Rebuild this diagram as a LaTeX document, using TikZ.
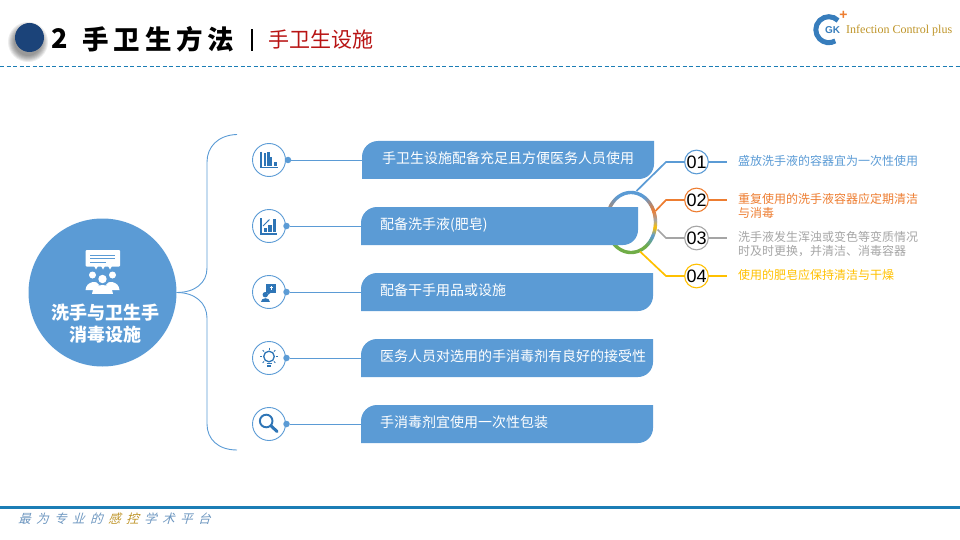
\documentclass[tikz,border=0pt]{standalone}
\usepackage{fontspec}
\setmainfont{Noto Sans CJK SC}
\newfontfamily\numfont{Liberation Sans}
\newfontfamily\logofont{Liberation Serif}
\newfontfamily\headfont[LetterSpace=18]{Noto Sans CJK SC}
\newfontfamily\sloganfont[FakeSlant=0.3]{Noto Sans CJK SC}
\usetikzlibrary{arrows.meta,positioning}
\definecolor{cblue}{HTML}{5B9BD5}
\definecolor{corange}{HTML}{ED7D31}
\definecolor{cgray}{HTML}{A5A5A5}
\definecolor{cyellow}{HTML}{FFC000}
\definecolor{cgreen}{HTML}{70AD47}
\definecolor{cbrown}{HTML}{A58A78}
\definecolor{iconb}{HTML}{2E75B6}
\definecolor{navy}{HTML}{1B4379}
\definecolor{titlered}{HTML}{B81414}
\definecolor{rulec}{HTML}{1B7DB5}
\definecolor{goldc}{HTML}{BE9428}
\definecolor{sloganb}{HTML}{6E97C0}
\newcommand{\fsz}[1]{\fontsize{#1}{#1}\selectfont}
\newcommand{\sgap}{\hspace{5.5pt}}
\tikzset{
  leafbar/.style={inner sep=0pt, minimum height=38pt, minimum width=#1, outer sep=0pt,
    path picture={\fill[cblue] (path picture bounding box.south west) [rounded corners=16pt]
      -- (path picture bounding box.north west) [sharp corners]
      -- (path picture bounding box.north east) [rounded corners=15pt]
      -- (path picture bounding box.south east) [sharp corners] -- cycle;}},
  bartxt/.style={anchor=west, inner sep=0pt, text=white, font=\fsz{14}},
  iconring/.style={circle, draw=cblue, fill=white, line width=0.9pt, minimum size=33pt, inner sep=0pt},
  dotpt/.style={circle, fill=cblue, minimum size=6.5pt, inner sep=0pt},
  linkln/.style={draw=cblue, line width=0.9pt},
  numring/.style={circle, draw=#1, fill=white, line width=1.1pt, minimum size=21pt, inner sep=0pt,
    font=\numfont\fsz{18}, text=black},
  lead/.style={draw=#1, line width=1.7pt},
  notetxt/.style={anchor=west, inner sep=0pt, align=left, text=#1, font=\fontsize{12}{14.5}\selectfont},
  ringseg/.style={line width=3.4pt, line cap=round},
}
\begin{document}
\begin{tikzpicture}[x=1pt,y=-1pt]
  \useasboundingbox (0,0) rectangle (960,540);
  % header
  \foreach \r in {20,19,...,14} \fill[black,opacity=0.07] (28,42) circle[radius=\r pt];
  \node[circle, fill=navy, minimum size=29pt, inner sep=0pt] (headdot) at (29.5,37.5) {};
  \node[anchor=west, inner sep=0pt, font=\bfseries\fsz{27}] (headnum) at (51,39) {2};
  \node[anchor=west, inner sep=0pt, font=\headfont\bfseries\fsz{26.5}] (headtxt) at (82.5,39) {手卫生方法};
  \node[inner sep=0pt, fill=black, minimum width=1.6pt, minimum height=22pt] (headsep) at (252,40) {};
  \node[anchor=west, inner sep=0pt, text=titlered, font=\fsz{21}] (subtxt) at (268,40) {手卫生设施};
  \draw[rulec, line width=0.9pt, dash pattern=on 4pt off 2.5pt] (0,66.5) -- (960,66.5);
  % logo
  \draw[iconb!80!cblue, line width=5pt] (838,20.5) arc[start angle=45, end angle=300, radius=13pt];
  \node[inner sep=0pt, text=iconb!80!cblue, font=\numfont\bfseries\fsz{10}] (logogk) at (832.5,30.5) {GK};
  \node[inner sep=0pt, text=corange, font=\numfont\bfseries\fsz{14}] (logoplus) at (843.5,15.5) {+};
  \node[anchor=west, inner sep=0pt, text=goldc, font=\logofont\fsz{12}] (logotxt) at (846,31) {Infection Control plus};
  % centre circle
  \node[circle, fill=cblue, minimum size=148pt, inner sep=0pt] (hub) at (102.5,292.5) {};
  \node[inner sep=0pt, text=white, align=center, font=\bfseries\fontsize{18}{22}\selectfont] (hubtxt) at (105,323.5) {洗手与卫生手\\消毒设施};
  \fill[white, rounded corners=1pt] (85.5,250) rectangle (120,266.5);
  \fill[white] (94,266) -- (98,266) -- (96,269.5) -- cycle (101,266) -- (105,266) -- (103,269.5) -- cycle (108,266) -- (112,266) -- (110,269.5) -- cycle;
  \draw[cblue, line width=0.8pt] (90,255) -- (115,255) (90,258.5) -- (115,258.5) (90,262) -- (106,262);
  \fill[white] (92.5,275) circle[radius=3.5pt] (112.5,275) circle[radius=3.5pt] (102.5,279) circle[radius=4.2pt];
  \fill[white] (85.5,290) .. controls (86,281) and (98,280) .. (99,285) -- (95,290) -- cycle;
  \fill[white] (119.5,290) .. controls (119,281) and (107,280) .. (106,285) -- (110,290) -- cycle;
  \fill[white] (92,293.5) .. controls (92,282) and (113,282) .. (113,293.5) -- cycle;
  % bracket
  \coordinate (brtop) at (237,134.5);
  \coordinate (brbot) at (237,450);
  \draw[linkln] (brtop) .. controls (218,135) and (207,147) .. (207,162) -- (207,268)
    .. controls (207,283) and (195,292.5) .. (hub.east);
  \draw[linkln] (hub.east) .. controls (195,292.5) and (207,303) .. (207,318) -- (207,424)
    .. controls (207,439) and (218,450) .. (brbot);
  % ring
  \foreach \angA/\angB/\colA/\colB in {150/120/cbrown/cblue, 120/55/cblue/cblue, 55/20/cblue/corange,
      20/2/corange/cgray, 2/-12/cgray/cyellow, -12/-28/cyellow/cblue, -28/-55/cblue/cgreen, -55/-139/cgreen/cgreen}
    \foreach \k in {0,...,5} {
      \pgfmathsetmacro{\pa}{\angA+(\angB-\angA)*\k/6}
      \pgfmathsetmacro{\pb}{\angA+(\angB-\angA)*(\k+1)/6}
      \pgfmathsetmacro{\pc}{100*(\k+0.5)/6}
      \draw[ringseg, draw={\colB!\pc!\colA}] plot[domain=\pa:\pb, samples=4] ({631+24.5*cos(\x)},{222.5-30*sin(\x)});
    }
  % bars
  \node[leafbar=292pt] (bar1) at (508,160) {};
  \node[leafbar=277pt] (bar2) at (499.5,226) {};
  \node[leafbar=292pt] (bar3) at (507,292) {};
  \node[leafbar=292pt] (bar4) at (507,358) {};
  \node[leafbar=292pt] (bar5) at (507,424) {};
  \node[bartxt] (txt1) at (382,158.5) {手卫生设施配备充足且方便医务人员使用};
  \node[bartxt] (txt2) at (380,224.5) {配备洗手液(肥皂)};
  \node[bartxt] (txt3) at (380,290) {配备干手用品或设施};
  \node[bartxt] (txt4) at (380,356) {医务人员对选用的手消毒剂有良好的接受性};
  \node[bartxt] (txt5) at (380,422) {手消毒剂宜使用一次性包装};
  % icon circles
  \foreach \i/\yy/\dx in {1/160/288, 2/226/286.5, 3/292/286.5, 4/358/286.5, 5/424/286.5} {
    \node[iconring] (ring\i) at (269,\yy) {};
    \node[dotpt] (dot\i) at (\dx,\yy) {};
    \draw[linkln] (dot\i) -- (bar\i.west);
  }
  \begin{scope}[shift={(ring1.center)}, iconb]
    \draw[line width=1.4pt] (-8,-8) -- (-8,7.5) -- (8.5,7.5);
    \foreach \xx/\ww/\tt in {-5/2/-6.5, -1.8/2.4/-7.5, 1.3/2/-3, 4.7/3.3/2} \fill (\xx,\tt) rectangle ({\xx+\ww},5.7);
  \end{scope}
  \begin{scope}[shift={(ring2.center)}, iconb]
    \draw[line width=1.5pt] (-8,-8) -- (-8,8) -- (8,8);
    \foreach \xx/\tt in {-5.5/2, -1/-1, 3.5/-7} \fill (\xx,\tt) rectangle ({\xx+3.8},6);
    \draw[line width=0.9pt, -{Latex[length=2.5pt]}] (-6,0) -- (1,-7);
  \end{scope}
  \begin{scope}[shift={(ring3.center)}, iconb]
    \fill (-3.7,2.7) circle[radius=2.7pt];
    \fill (-8.5,9.5) .. controls (-8.5,4.5) and (0.8,4.5) .. (0.8,9.5) -- cycle;
    \fill (-2.7,-8.3) rectangle (7.3,1);
    \fill (-1,0.5) -- (2,0.5) -- (-2.5,4) -- cycle;
    \draw[white, line width=0.9pt] (2.3,-6) -- (2.3,-2.5) (0.6,-4.2) -- (4,-4.2);
  \end{scope}
  \begin{scope}[shift={(ring4.center)}, iconb]
    \draw[line width=1.3pt] (0,-1.5) circle[radius=5.3pt];
    \draw[line width=1.4pt] (-2.5,5.5) -- (2.5,5.5) (-1.7,8) -- (1.7,8);
    \foreach \aa in {0,45,135,180,225,315,270}
      \draw[line width=1pt] ({9*cos(\aa)},{-1.5+9*sin(\aa)}) -- ({7*cos(\aa)},{-1.5+7*sin(\aa)});
  \end{scope}
  \begin{scope}[shift={(ring5.center)}, iconb]
    \draw[line width=1.9pt] (-2.8,-3) circle[radius=6.3pt];
    \draw[line width=3pt, line cap=round] (2.2,2) -- (8,7.5);
  \end{scope}
  % numbered notes
  \foreach \i/\yy/\cc/\nn in {1/162/cblue/01, 2/200/corange/02, 3/238/cgray/03, 4/276/cyellow/04} {
    \node[numring=\cc] (num\i) at (696.5,\yy) {\nn};
    \coordinate (tail\i) at (726.5,\yy);
    \draw[lead=\cc] (num\i) -- (tail\i);
  }
  \coordinate (st1) at (636.5,191);
  \coordinate (st2) at (655.5,211);
  \coordinate (st3) at (657.5,229.5);
  \coordinate (st4) at (640,251.5);
  \draw[lead=cblue] (st1) -- (666,162) -- (num1);
  \draw[lead=corange] (st2) -- (666,200) -- (num2);
  \draw[lead=cgray] (st3) -- (666,238) -- (num3);
  \draw[lead=cyellow] (st4) -- (666,276) -- (num4);
  \node[notetxt=cblue] (note1) at (738,161) {盛放洗手液的容器宜为一次性使用};
  \node[notetxt=corange] (note2) at (738,206) {重复使用的洗手液容器应定期清洁\\与消毒};
  \node[notetxt=cgray] (note3) at (738,244) {洗手液发生浑浊或变色等变质情况\\时及时更换，并清洁、消毒容器};
  \node[notetxt=cyellow] (note4) at (738,275) {使用的肥皂应保持清洁与干燥};
  % footer
  \draw[rulec, line width=3pt] (0,507.5) -- (960,507.5);
  \node[anchor=west, inner sep=0pt, text=sloganb, font=\sloganfont\fsz{12.5}] (slogan) at (18,519) {最\sgap 为\sgap 专\sgap 业\sgap 的\sgap\textcolor{goldc}{感\sgap 控}\sgap 学\sgap 术\sgap 平\sgap 台};
\end{tikzpicture}
\end{document}
